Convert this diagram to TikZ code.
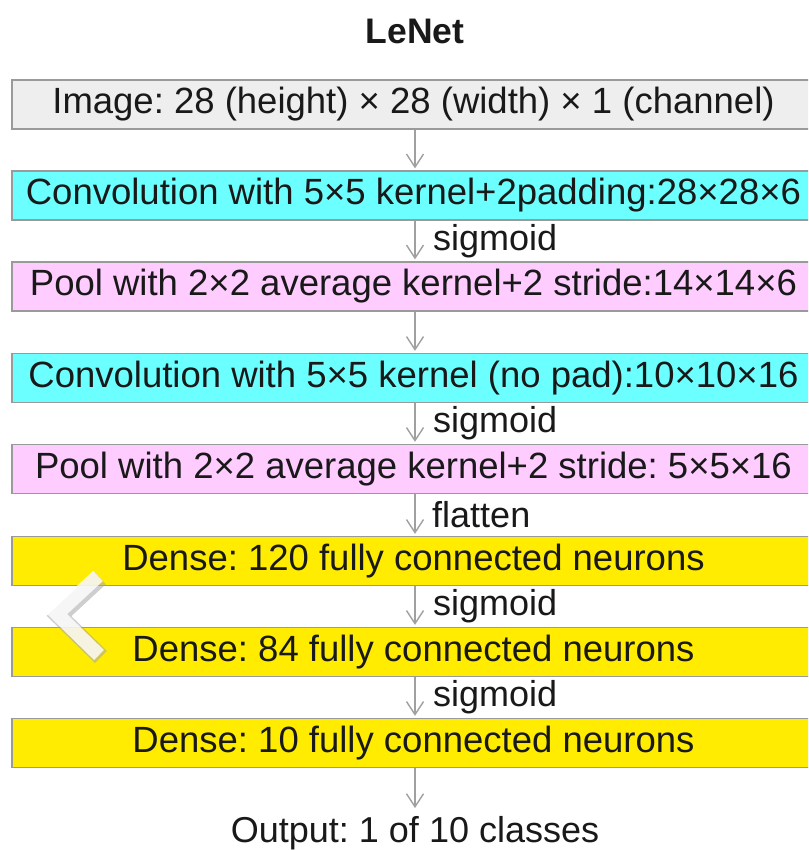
\documentclass[tikz,border=0pt]{standalone}
\usepackage{fontspec}
\setmainfont{Liberation Sans}
\usetikzlibrary{arrows.meta,calc}
\frenchspacing
\definecolor{imgfill}{HTML}{EEEEEE}
\definecolor{convfill}{HTML}{6CFFFF}
\definecolor{poolfill}{HTML}{FFCCFF}
\definecolor{densefill}{HTML}{FFEC00}
\definecolor{edgegray}{HTML}{9A9A9A}
\definecolor{arrowgray}{HTML}{A0A0A0}
\begin{document}
\begin{tikzpicture}[x=1pt,y=-1pt,
  layer/.style={rectangle, draw=edgegray, line width=1.3pt, minimum width=803pt,
    minimum height=49pt, inner sep=0pt, font=\fontsize{36.5}{40}\selectfont, text=black!90},
  imgbox/.style={layer, fill=imgfill},
  convbox/.style={layer, fill=convfill},
  poolbox/.style={layer, fill=poolfill},
  densebox/.style={layer, fill=densefill},
  flow/.style={draw=arrowgray, line width=1.4pt, -{Straight Barb[length=13pt,width=17pt,line width=1.4pt]}, shorten >=2pt},
  actlabel/.style={anchor=west, inner sep=0pt, font=\fontsize{36}{40}\selectfont, text=black!90},
  plaintext/.style={inner sep=0pt, font=\fontsize{36}{40}\selectfont, text=black!90}]
\useasboundingbox (0,0) rectangle (808,850);
\clip (0,0) rectangle (808,850);
\fill[white] (0,0) rectangle (808,850);

\node[plaintext, font=\fontsize{35.5}{40}\selectfont\bfseries] (title) at (415,31) {LeNet};

\node[imgbox]   (b1) at (413.5,104.5) {Image: 28 (height) × 28 (width) × 1 (channel)};
\node[convbox]  (b2) at (413.5,195.5) {Convolution with 5×5 kernel+2padding:28×28×6};
\node[poolbox]  (b3) at (413.5,286.5) {Pool with 2×2 average kernel+2 stride:14×14×6};
\node[convbox]  (b4) at (413.5,378)   {Convolution with 5×5 kernel (no pad):10×10×16};
\node[poolbox]  (b5) at (413.5,469)   {Pool with 2×2 average kernel+2 stride: 5×5×16};
\node[densebox] (b6) at (413.5,561)   {Dense: 120 fully connected neurons};
\node[densebox] (b7) at (413.5,652)   {Dense: 84 fully connected neurons};
\node[densebox] (b8) at (413.5,743)   {Dense: 10 fully connected neurons};
\node[plaintext] (out) at (415,833) {Output: 1 of 10 classes};

\draw[flow] ($(b1.south)+(1.5,0)$) -- ($(b2.north)+(1.5,0)$);
\draw[flow] ($(b2.south)+(1.5,0)$) -- ($(b3.north)+(1.5,0)$);
\draw[flow] ($(b3.south)+(1.5,0)$) -- ($(b4.north)+(1.5,0)$);
\draw[flow] ($(b4.south)+(1.5,0)$) -- ($(b5.north)+(1.5,0)$);
\draw[flow] ($(b5.south)+(1.5,0)$) -- ($(b6.north)+(1.5,0)$);
\draw[flow] ($(b6.south)+(1.5,0)$) -- ($(b7.north)+(1.5,0)$);
\draw[flow] ($(b7.south)+(1.5,0)$) -- ($(b8.north)+(1.5,0)$);
\draw[flow] ($(b8.south)+(1.5,0)$) -- ($(out.north)+(0,-6)$);

\node[actlabel] (l2) at ($($(b2.south)!0.5!(b3.north)$)+(19.5,0)$) {sigmoid};
\node[actlabel] (l4) at ($($(b4.south)!0.5!(b5.north)$)+(19.5,0)$) {sigmoid};
\node[actlabel] (l5) at ($($(b5.south)!0.5!(b6.north)$)+(18.5,0)$) {flatten};
\node[actlabel] (l6) at ($($(b6.south)!0.5!(b7.north)$)+(19.5,0)$) {sigmoid};
\node[actlabel] (l7) at ($($(b7.south)!0.5!(b8.north)$)+(19.5,0)$) {sigmoid};

% carousel chevron overlay
\coordinate (cA) at (98,576);
\coordinate (cB) at (57,614);
\coordinate (cC) at (99,655);
\draw[line width=17pt, gray!70, opacity=0.55, line cap=butt, line join=miter]
  ($(cA)+(2,2)$) -- ($(cB)+(2,2)$) -- ($(cC)+(2,2)$);
\draw[line width=14pt, white, opacity=0.82, line cap=butt, line join=miter]
  (cA) -- (cB) -- (cC);
\end{tikzpicture}
\end{document}
